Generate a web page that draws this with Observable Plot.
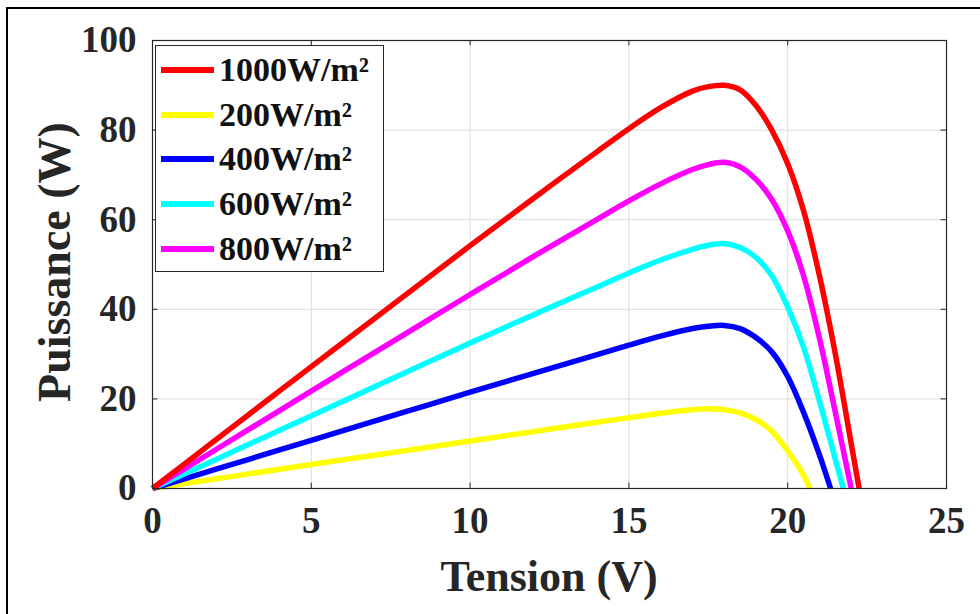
<!DOCTYPE html>
<html>
<head>
<meta charset="utf-8">
<script src="https://cdn.jsdelivr.net/npm/d3@7"></script>
<script src="https://cdn.jsdelivr.net/npm/@observablehq/plot@0.6"></script>
<style>
  html, body { margin: 0; padding: 0; background: #fff; }
  #wrap { position: relative; width: 980px; height: 614px; overflow: hidden; background: #fff; }
  #border { position: absolute; left: 6px; top: 7px; width: 1000px; height: 700px; border-top: 2px solid #000; border-left: 2px solid #000; }
  .ttl { position: absolute; font-family: "Liberation Serif", "Times New Roman", serif; font-weight: bold; color: #262626; white-space: nowrap; }
  #legend { position: absolute; left: 155px; top: 45px; width: 229px; height: 227px; border: 1px solid #262626; background: #fff; box-sizing: border-box; }
  .lg-row { position: absolute; left: 0; height: 40px; }
  .lg-sw { position: absolute; left: 5px; width: 53px; height: 6px; }
  .lg-tx { position: absolute; left: 63px; font-family: "Liberation Serif", "Times New Roman", serif; font-weight: bold; font-size: 34px; color: #111; white-space: nowrap; line-height: 40px; top: 0; }
  svg text { font-family: "Liberation Serif", "Times New Roman", serif; }
</style>
</head>
<body>
<div id="wrap">
  <div id="chart"></div>
  <div id="border"></div>
  <div class="ttl" id="xtitle" style="left:0;width:1098px;text-align:center;top:552px;font-size:44px;line-height:50px;">Tension (V)</div>
  <div class="ttl" id="ytitle" style="left:55px;top:262px;font-size:46px;line-height:50px;transform:translate(-50%,-50%) rotate(-90deg);">Puissance (W)</div>
  <div id="legend"></div>
</div>
<script>
// ---- data ----
const series = ["1000W/m²", "200W/m²", "400W/m²", "600W/m²", "800W/m²"];
const colors = ["#ff0000", "#ffff00", "#0000ff", "#00ffff", "#ff00ff"];

const v1000 = [0, 2, 4, 6, 8, 10, 12, 14, 15, 16, 17, 17.5, 18, 18.5, 19, 19.5, 20, 20.5, 21, 21.5, 22, 22.25];
const p1000 = [0, 10.9, 21.8, 32.6, 43.4, 54.2, 64.8, 75.2, 80.3, 85, 88.7, 89.7, 90, 89, 85.5, 80, 72.5, 62, 47.5, 30, 10, 0];

const v800 = [0, 2, 4, 6, 8, 10, 12, 14, 15, 16, 17, 17.5, 18, 18.5, 19, 19.5, 20, 20.5, 21, 21.5, 22];
const p800 = [0, 8.7, 17.4, 26.1, 34.7, 43.3, 51.8, 60.1, 64.2, 68, 71.2, 72.3, 72.8, 71.8, 69, 64.5, 57.5, 47.5, 33.5, 17, 0];

const v600 = [0, 2, 4, 6, 8, 10, 12, 14, 15, 16, 17, 17.5, 18, 18.5, 19, 19.5, 20, 20.5, 21, 21.5, 21.75];
const p600 = [0, 6.5, 13, 19.5, 26, 32.5, 38.8, 45, 48.1, 51, 53.4, 54.3, 54.7, 53.8, 51.6, 47.5, 40.5, 31.5, 19.5, 6.5, 0];

const v400 = [0, 2, 4, 6, 8, 10, 12, 14, 15, 16, 17, 17.5, 18, 18.5, 19, 19.5, 20, 20.5, 21, 21.35];
const p400 = [0, 4.3, 8.6, 12.9, 17.2, 21.5, 25.7, 29.9, 32, 34, 35.7, 36.2, 36.4, 35.7, 33.7, 30.5, 25, 17, 7.5, 0];

const v200 = [0, 2, 4, 6, 8, 10, 12, 14, 15, 16, 17, 17.5, 18, 18.5, 19, 19.5, 20, 20.5, 20.7];
const p200 = [0, 2.15, 4.3, 6.4, 8.5, 10.6, 12.7, 14.8, 15.8, 16.8, 17.6, 17.8, 17.6, 16.9, 15.4, 12.8, 8.4, 3, 0];

const xTicks = [0, 5, 10, 15, 20, 25];
const yTicks = [0, 20, 40, 60, 80, 100];

// ---- build table ----
const pairs = {"1000W/m²": [v1000, p1000], "200W/m²": [v200, p200], "400W/m²": [v400, p400], "600W/m²": [v600, p600], "800W/m²": [v800, p800]};
const drawOrder = ["200W/m²", "400W/m²", "600W/m²", "800W/m²", "1000W/m²"];
const rows = [];
for (const s of drawOrder) {
  const [vs, ps] = pairs[s];
  vs.forEach((v, i) => rows.push({s, v, p: ps[i]}));
}
const colorOf = Object.fromEntries(series.map((s, i) => [s, colors[i]]));

const tickColor = "#262626";
const chart = Plot.plot({
  width: 980,
  height: 614,
  marginLeft: 152,
  marginRight: 34,
  marginTop: 40,
  marginBottom: 126,
  style: {background: "transparent", overflow: "visible"},
  x: {domain: [0, 25]},
  y: {domain: [0, 100]},
  marks: [
    Plot.gridX(xTicks, {stroke: "#dcdcdc", strokeOpacity: 1, strokeWidth: 1}),
    Plot.gridY(yTicks, {stroke: "#dcdcdc", strokeOpacity: 1, strokeWidth: 1}),
    ...drawOrder.map(s => Plot.line(rows.filter(r => r.s === s), {
      x: "v", y: "p", stroke: colorOf[s], strokeWidth: 5.5, curve: "catmull-rom",
      strokeLinejoin: "round", strokeLinecap: "butt"
    })),
    Plot.frame({stroke: tickColor, strokeWidth: 1.2}),
    Plot.ruleX(xTicks, {x: d => d, y1: 0, y2: 1.2, stroke: tickColor}),
    Plot.ruleX(xTicks, {x: d => d, y1: 100, y2: 98.8, stroke: tickColor}),
    Plot.ruleY(yTicks, {y: d => d, x1: 0, x2: 0.17, stroke: tickColor}),
    Plot.ruleY(yTicks, {y: d => d, x1: 25, x2: 24.83, stroke: tickColor}),
    Plot.axisX(xTicks, {tickSize: 0, tickPadding: 18, label: null, fontSize: 37, fontWeight: "bold", fill: "#262626", fontFamily: "Liberation Serif"}),
    Plot.axisY(yTicks, {tickSize: 0, tickPadding: 16, label: null, fontSize: 37, fontWeight: "bold", fill: "#262626", fontFamily: "Liberation Serif"})
  ]
});
document.getElementById("chart").appendChild(chart);

// legend
const lg = document.getElementById("legend");
series.forEach((s, i) => {
  const row = document.createElement("div");
  row.className = "lg-row";
  row.style.top = (4 + i * 44.7) + "px";
  row.style.width = "100%";
  const sw = document.createElement("div");
  sw.className = "lg-sw";
  sw.style.top = "17px";
  sw.style.background = colors[i];
  const tx = document.createElement("div");
  tx.className = "lg-tx";
  tx.textContent = s;
  row.appendChild(sw);
  row.appendChild(tx);
  lg.appendChild(row);
});
</script>
</body>
</html>
